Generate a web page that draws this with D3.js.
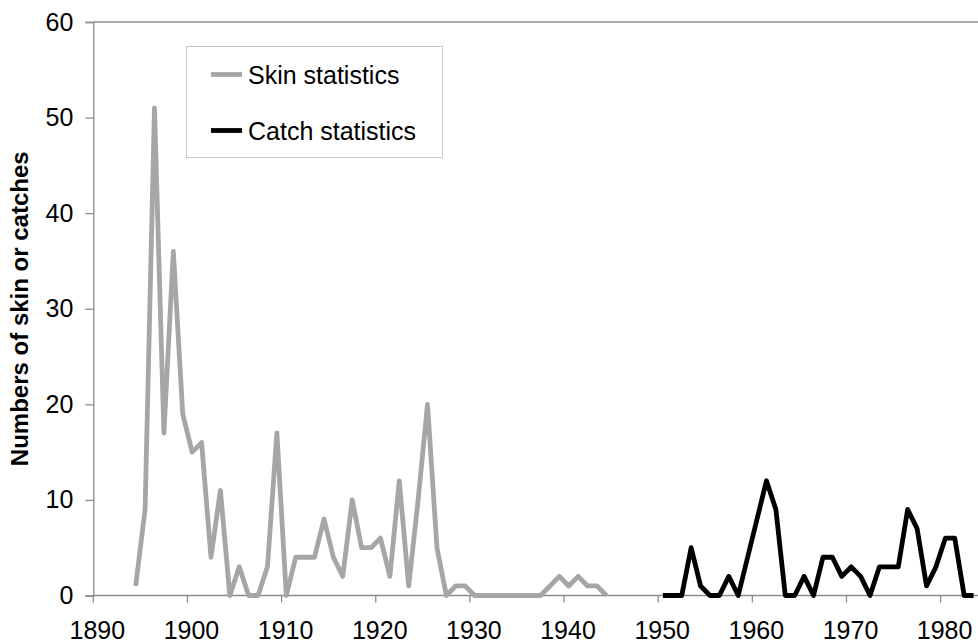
<!DOCTYPE html>
<html>
<head>
<meta charset="utf-8">
<script src="https://cdn.jsdelivr.net/npm/d3@7"></script>
<style>
  body { margin: 0; background: #fff; }
  svg { display: block; font-family: "Liberation Sans", Arial, sans-serif; }
</style>
</head>
<body>
<svg width="978" height="644"></svg>
<script>
// years on the category axis
var years = d3.range(1890, 1984);
var tickYears = [1890, 1900, 1910, 1920, 1930, 1940, 1950, 1960, 1970, 1980];
var yTicks = [0, 10, 20, 30, 40, 50, 60];

// skin statistics, 1894-1944
var skinYears = d3.range(1894, 1945);
var skinValues = [1, 9, 51, 17, 36, 19, 15, 16, 4, 11,
                  0, 3, 0, 0, 3, 17, 0, 4, 4, 4,
                  8, 4, 2, 10, 5, 5, 6, 2, 12, 1,
                  10, 20, 5, 0, 1, 1, 0, 0, 0, 0,
                  0, 0, 0, 0, 1, 2, 1, 2, 1, 1, 0];

// catch statistics, 1950-1983
var catchYears = d3.range(1950, 1984);
var catchValues = [0, 0, 0, 5, 1, 0, 0, 2, 0, 4,
                   8, 12, 9, 0, 0, 2, 0, 4, 4, 2,
                   3, 2, 0, 3, 3, 3, 9, 7, 1, 3,
                   6, 6, 0, 0];

var series = [
  {name: "Skin statistics", years: skinYears, values: skinValues, color: "#a6a6a6"},
  {name: "Catch statistics", years: catchYears, values: catchValues, color: "#000000"}
];

var svg = d3.select("svg"),
    plotLeft = 93.3, plotRight = 978.3, plotTop = 22, plotBottom = 595.5;

var x = d3.scaleBand().domain(years).range([plotLeft, plotRight]).padding(0);
var y = d3.scaleLinear().domain([0, 60]).range([plotBottom, plotTop]);

var axisColor = "#8c8c8c";

// top border of plot area
svg.append("line")
    .attr("x1", plotLeft).attr("x2", plotRight)
    .attr("y1", y(60)).attr("y2", y(60))
    .attr("stroke", axisColor).attr("stroke-width", 1.3);

// y axis
var yAxis = svg.append("g")
    .attr("transform", "translate(" + plotLeft + ",0)")
    .call(d3.axisLeft(y).tickValues(yTicks).tickSize(8).tickPadding(12));
yAxis.select(".domain").attr("stroke", axisColor).attr("stroke-width", 1.3);
yAxis.selectAll(".tick line").attr("stroke", axisColor).attr("stroke-width", 1.3);
yAxis.selectAll(".tick text")
    .attr("font-size", 25).attr("fill", "#000")
    .attr("font-family", "Liberation Sans, Arial, sans-serif");

// x axis, ticks sit on category edges
var xAxis = svg.append("g").attr("transform", "translate(0," + plotBottom + ")");
xAxis.append("line")
    .attr("x1", plotLeft).attr("x2", plotRight)
    .attr("stroke", axisColor).attr("stroke-width", 1.3);
xAxis.selectAll("line.tick")
    .data(tickYears)
    .enter().append("line")
      .attr("class", "tick")
      .attr("x1", function(d) { return x(d); })
      .attr("x2", function(d) { return x(d); })
      .attr("y1", 0).attr("y2", 7)
      .attr("stroke", axisColor).attr("stroke-width", 1.3);
xAxis.selectAll("text")
    .data(tickYears)
    .enter().append("text")
      .attr("x", function(d) { return x(d) + 4; })
      .attr("y", 43)
      .attr("text-anchor", "middle")
      .attr("font-size", 25)
      .text(function(d) { return d; });

// y axis title
svg.append("text")
    .attr("transform", "translate(28," + (plotTop + plotBottom) / 2 + ") rotate(-90)")
    .attr("text-anchor", "middle")
    .attr("font-size", 24)
    .attr("font-weight", "bold")
    .text("Numbers of skin or catches");

// lines
var line = d3.line()
    .x(function(d) { return x(d[0]) + x.bandwidth() / 2; })
    .y(function(d) { return y(d[1]); });

svg.selectAll("path.series")
    .data(series)
    .enter().append("path")
      .attr("class", "series")
      .attr("fill", "none")
      .attr("stroke", function(d) { return d.color; })
      .attr("stroke-width", 4.8)
      .attr("stroke-linejoin", "round")
      .attr("d", function(d) { return line(d3.zip(d.years, d.values)); });

// legend
var legend = svg.append("g");
legend.append("rect")
    .attr("x", 186.5).attr("y", 46.5)
    .attr("width", 256).attr("height", 111)
    .attr("fill", "#fff")
    .attr("stroke", "#c8c8c8").attr("stroke-width", 1);
var item = legend.selectAll("g.item")
    .data(series)
    .enter().append("g")
      .attr("class", "item")
      .attr("transform", function(d, i) { return "translate(0," + (74.5 + i * 56) + ")"; });
item.append("line")
    .attr("x1", 211).attr("x2", 242)
    .attr("stroke", function(d) { return d.color; })
    .attr("stroke-width", 4.8);
item.append("text")
    .attr("x", 248)
    .attr("y", 9)
    .attr("font-size", 25)
    .text(function(d) { return d.name; });
</script>
</body>
</html>
